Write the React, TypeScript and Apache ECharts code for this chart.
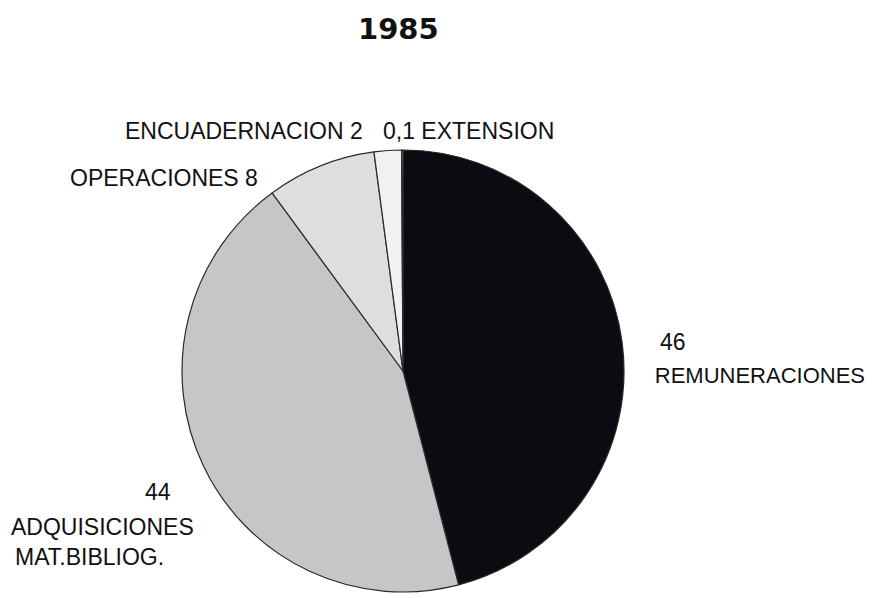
import React, { useEffect, useRef } from "react";
import * as echarts from "echarts";

const title = "1985";
const categories = ["REMUNERACIONES", "ADQUISICIONES", "OPERACIONES", "ENCUADERNACION", "EXTENSION"];
const values = [46, 44, 8, 2, 0.1];
const valueTexts = ["46", "44", "8", "2", "0,1"];
const colors = ["#0b0b12", "#c6c6c8", "#dedee0", "#f1f1f3", "#ffffff"];

export default function App() {
  const ref = useRef<HTMLDivElement>(null);
  useEffect(() => {
    const chart = echarts.init(ref.current!, null, { renderer: "svg" });
    const font = "'Liberation Sans', Arial, sans-serif";
    const txt = (x: number, y: number, text: string, size = 23, align = "left") => ({
      type: "text",
      x,
      y,
      style: { fontFamily: font, fontSize: size, fill: "#111", text, textAlign: align, textVerticalAlign: "middle" },
    });
    chart.setOption({
      animation: false,
      backgroundColor: "#ffffff",
      title: {
        text: title,
        left: 353,
        top: 9,
        textStyle: { fontFamily: "'DejaVu Sans', sans-serif", fontSize: 29, fontWeight: "bold", color: "#111" },
      },
      series: [
        {
          type: "pie",
          center: [403, 371],
          radius: 221,
          startAngle: 90,
          clockwise: true,
          label: { show: false },
          labelLine: { show: false },
          itemStyle: { borderColor: "#2a2a2a", borderWidth: 1.2 },
          emphasis: { disabled: true },
          data: categories.map((name, i) => ({
            name,
            value: values[i],
            itemStyle: { color: colors[i] },
          })),
        },
      ],
      graphic: [
        txt(125, 131, `${categories[3]} ${valueTexts[3]}`),
        txt(383, 131, `${valueTexts[4]} ${categories[4]}`),
        txt(70, 178, `${categories[2]} ${valueTexts[2]}`),
        txt(660, 342, valueTexts[0]),
        txt(865, 375, categories[0], 22, "right"),
        txt(145, 492, valueTexts[1]),
        txt(11, 527, categories[1]),
        txt(15, 557, "MAT.BIBLIOG."),
      ],
    });
    return () => chart.dispose();
  }, []);
  return <div ref={ref} style={{ position: "fixed", left: 0, top: 0, width: 872, height: 598 }} />;
}
